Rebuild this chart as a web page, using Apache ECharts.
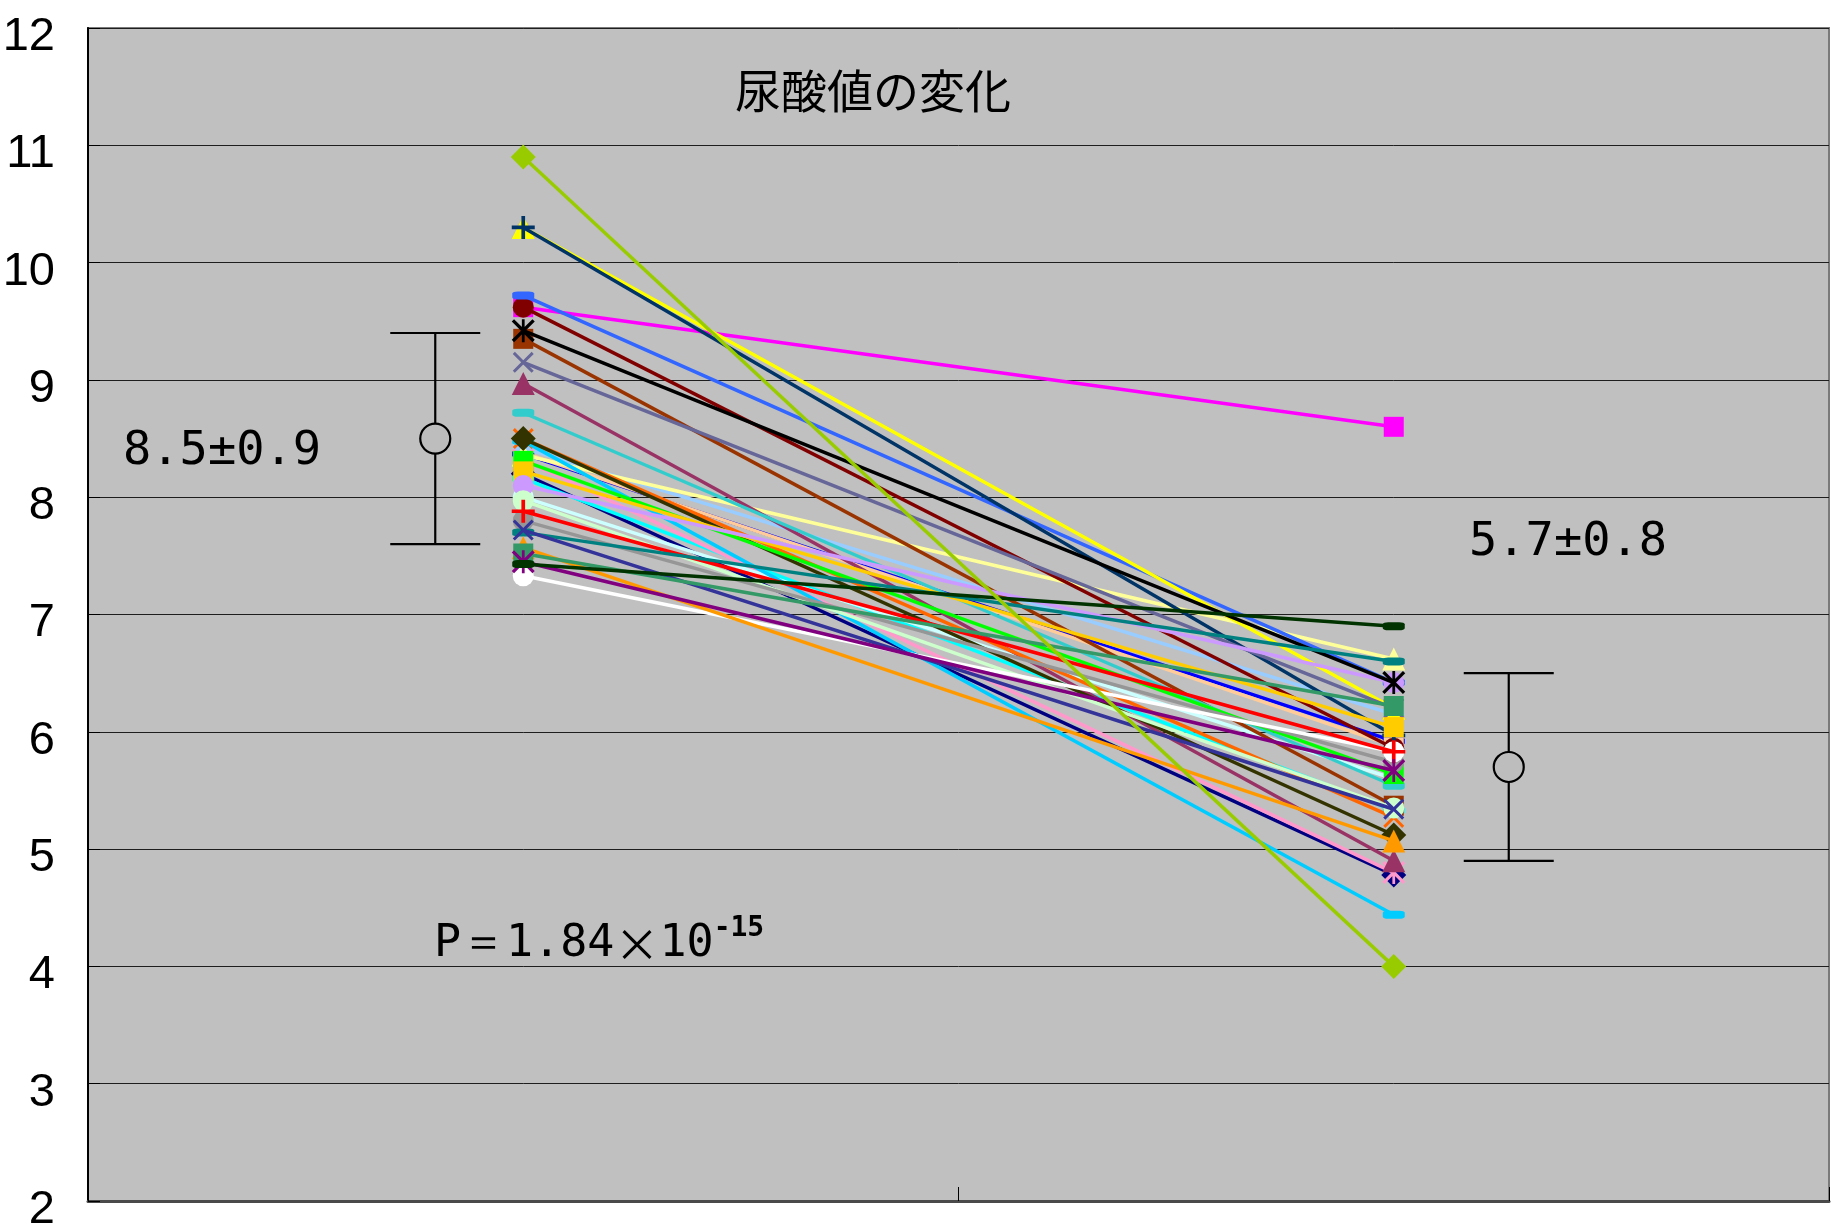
<!DOCTYPE html>
<html>
<head>
<meta charset="utf-8">
<script src="https://cdn.jsdelivr.net/npm/echarts@6/dist/echarts.min.js"></script>
<style>
  html, body { margin: 0; padding: 0; background: #ffffff; }
  #chart { width: 1838px; height: 1232px; }
</style>
</head>
<body>
<div id="chart"></div>
<script>
// Two measurement points (labels hidden on the axis)
const periods = ['前', '後'];

// Y axis range / ticks
const yMin = 2;
const yMax = 12;
const yStep = 1;

// One line per patient: colour, marker, value before, value after
// (listed in drawing order: later entries are painted on top)
const patientColors = [
  '#000080', '#0000FF', '#00FFFF', '#FFCC99', '#99CCFF', '#FF99CC', '#FFFF99',
  '#CCFFFF', '#FF00FF', '#800000', '#3366FF', '#FFFF00', '#003366', '#993300',
  '#666699', '#993366', '#33CCCC', '#FF6600', '#00CCFF', '#333300', '#00FF00',
  '#FFCC00', '#CC99FF', '#000000', '#CCFFCC', '#969696', '#FFFFFF', '#FF0000',
  '#008080', '#333399', '#FF9900', '#339966', '#800080', '#003300', '#99CC00'
];
const patientMarkers = [
  'diamond', 'dash', 'dash', 'rect', 'circle', 'star', 'triangle',
  'circle', 'rect', 'circle', 'dash', 'triangle', 'plus', 'rect',
  'x', 'triangle', 'dash', 'x', 'dash', 'diamond', 'rect',
  'rect', 'circle', 'star', 'circle', 'circle', 'circle', 'plus',
  'dash', 'x', 'triangle', 'rect', 'star', 'dash', 'diamond'
];
const valuesBefore = [
  8.2, 8.37, 8.16, 8.38, 8.42, 8.32, 8.36,
  8.0, 9.62, 9.62, 9.72, 10.3, 10.3, 9.35,
  9.15, 8.97, 8.72, 8.5, 8.48, 8.5, 8.31,
  8.22, 8.1, 9.42, 7.97, 7.8, 7.33, 7.88,
  7.7, 7.72, 7.57, 7.52, 7.45, 7.43, 10.9
];
const valuesAfter = [
  4.78, 5.92, 5.33, 5.88, 6.15, 4.8, 6.62,
  5.6, 8.6, 5.86, 6.42, 6.2, 5.97, 5.37,
  6.2, 4.9, 5.54, 5.27, 4.44, 5.12, 5.64,
  6.04, 6.42, 6.42, 5.35, 5.74, 5.83, 5.83,
  6.6, 5.34, 5.07, 6.22, 5.67, 6.9, 4.0
];

// Group mean ± SD for each measurement point
const statMeans = [8.5, 5.7];
const statSDs = [0.9, 0.8];

const titleText = '尿酸値の変化';
const pValueParts = ['P＝1.84', '×', '10', '-15'];

// Marker shapes
const X_PATH = 'path://M1,0L5,4L9,0L10,1L6,5L10,9L9,10L5,6L1,10L0,9L4,5L0,1Z';
const STAR_PATH = 'path://M1,0L5,4L9,0L10,1L6,5L10,9L9,10L5,6L1,10L0,9L4,5L0,1Z M4.4,0L5.6,0L5.6,10L4.4,10Z';
const PLUS_PATH = 'path://M4.2,0L5.8,0L5.8,4.2L10,4.2L10,5.8L5.8,5.8L5.8,10L4.2,10L4.2,5.8L0,5.8L0,4.2L4.2,4.2Z';
const markerStyles = {
  diamond: { symbol: 'diamond', size: 25 },
  rect: { symbol: 'rect', size: 20 },
  triangle: { symbol: 'triangle', size: 23 },
  x: { symbol: X_PATH, size: 21 },
  star: { symbol: STAR_PATH, size: 23 },
  circle: { symbol: 'circle', size: 21 },
  plus: { symbol: PLUS_PATH, size: 23 },
  dash: { symbol: 'roundRect', size: [22, 8] }
};

const chart = echarts.init(document.getElementById('chart'), null, { renderer: 'canvas' });

const lineSeries = valuesBefore.map(function (v, i) {
  const m = markerStyles[patientMarkers[i]];
  return {
    type: 'line',
    name: 'p' + (i + 1),
    data: [v, valuesAfter[i]],
    symbol: m.symbol,
    symbolSize: m.size,
    showSymbol: true,
    showAllSymbol: true,
    itemStyle: { color: patientColors[i], opacity: 1 },
    lineStyle: { color: patientColors[i], width: 3.5 },
    emphasis: { disabled: true },
    z: 3 + i * 0.01
  };
});

// Mean ± SD bars, drawn beside each group of points
const barOffsets = [-88, 115];
const errorBarSeries = {
  type: 'custom',
  name: 'mean',
  data: statMeans.map(function (m, i) { return [i, m, statSDs[i]]; }),
  z: 5,
  silent: true,
  renderItem: function (params, api) {
    const cat = api.value(0);
    const mean = api.value(1);
    const sd = api.value(2);
    const c = api.coord([cat, mean]);
    const t = api.coord([cat, mean + sd]);
    const b = api.coord([cat, mean - sd]);
    const x = c[0] + barOffsets[params.dataIndex];
    const half = 45;
    const r = 15;
    const stroke = { stroke: '#000', lineWidth: 2.2, fill: null };
    return {
      type: 'group',
      children: [
        { type: 'line', shape: { x1: x, y1: t[1], x2: x, y2: c[1] - r }, style: stroke },
        { type: 'line', shape: { x1: x, y1: c[1] + r, x2: x, y2: b[1] }, style: stroke },
        { type: 'line', shape: { x1: x - half, y1: t[1], x2: x + half, y2: t[1] }, style: stroke },
        { type: 'line', shape: { x1: x - half, y1: b[1], x2: x + half, y2: b[1] }, style: stroke },
        { type: 'circle', shape: { cx: x, cy: c[1], r: r }, style: { fill: '#BDBDBD', stroke: '#000', lineWidth: 2.2 } }
      ]
    };
  }
};

const annFont = '"DejaVu Sans Mono", monospace';
const cjkFont = '"Noto Sans CJK JP", sans-serif';

chart.setOption({
  animation: false,
  backgroundColor: '#ffffff',
  grid: {
    left: 88, right: 9, top: 28, bottom: 31,
    containLabel: false,
    outerBoundsMode: 'none',
    show: true,
    backgroundColor: '#C0C0C0',
    borderColor: '#7a7a7a',
    borderWidth: 2
  },
  xAxis: {
    type: 'category',
    data: periods,
    boundaryGap: true,
    axisLabel: { show: false },
    axisLine: { show: true, lineStyle: { color: '#4a4a4a', width: 3 } },
    axisTick: { show: true, inside: true, length: 14, lineStyle: { color: '#000', width: 1 } },
    splitLine: { show: false }
  },
  yAxis: {
    type: 'value',
    min: yMin,
    max: yMax,
    interval: yStep,
    axisLine: { show: true, lineStyle: { color: '#000', width: 2 } },
    axisTick: { show: true, inside: true, length: 12, lineStyle: { color: '#000', width: 1 } },
    axisLabel: {
      show: true,
      margin: 33,
      color: '#000',
      fontSize: 47,
      fontFamily: '"Liberation Sans Narrow", "Liberation Sans", sans-serif',
      verticalAlign: 'top',
      lineHeight: 18
    },
    splitLine: { show: true, lineStyle: { color: '#1e1e1e', width: 1 } }
  },
  series: lineSeries.concat([errorBarSeries]),
  graphic: [
    {
      type: 'text', x: 873, y: 91, z: 10, silent: true,
      style: {
        text: titleText, fill: '#000', font: '46px ' + cjkFont,
        textAlign: 'center', textVerticalAlign: 'middle'
      }
    },
    {
      type: 'text', x: 123, y: 452, z: 10, silent: true,
      style: {
        text: statMeans[0].toFixed(1) + '±' + statSDs[0].toFixed(1),
        fill: '#000', font: '47px ' + annFont,
        textAlign: 'left', textVerticalAlign: 'middle'
      }
    },
    {
      type: 'text', x: 1469, y: 543, z: 10, silent: true,
      style: {
        text: statMeans[1].toFixed(1) + '±' + statSDs[1].toFixed(1),
        fill: '#000', font: '47px ' + annFont,
        textAlign: 'left', textVerticalAlign: 'middle'
      }
    },
    {
      type: 'text', x: 434, y: 915, z: 10, silent: true,
      style: {
        text: '{m|' + pValueParts[0] + '}{x|' + pValueParts[1] + '}{m|' + pValueParts[2] + '}{s|' + pValueParts[3] + '}',
        textAlign: 'left', textVerticalAlign: 'top',
        rich: {
          m: { fontSize: 45, fontFamily: annFont, fill: '#000', lineHeight: 52, verticalAlign: 'bottom' },
          x: { fontSize: 45, fontFamily: cjkFont, fill: '#000', lineHeight: 52, verticalAlign: 'bottom' },
          s: { fontSize: 28, fontFamily: annFont, fontWeight: 'bold', fill: '#000', lineHeight: 26, verticalAlign: 'top' }
        }
      }
    }
  ]
});
</script>
</body>
</html>
